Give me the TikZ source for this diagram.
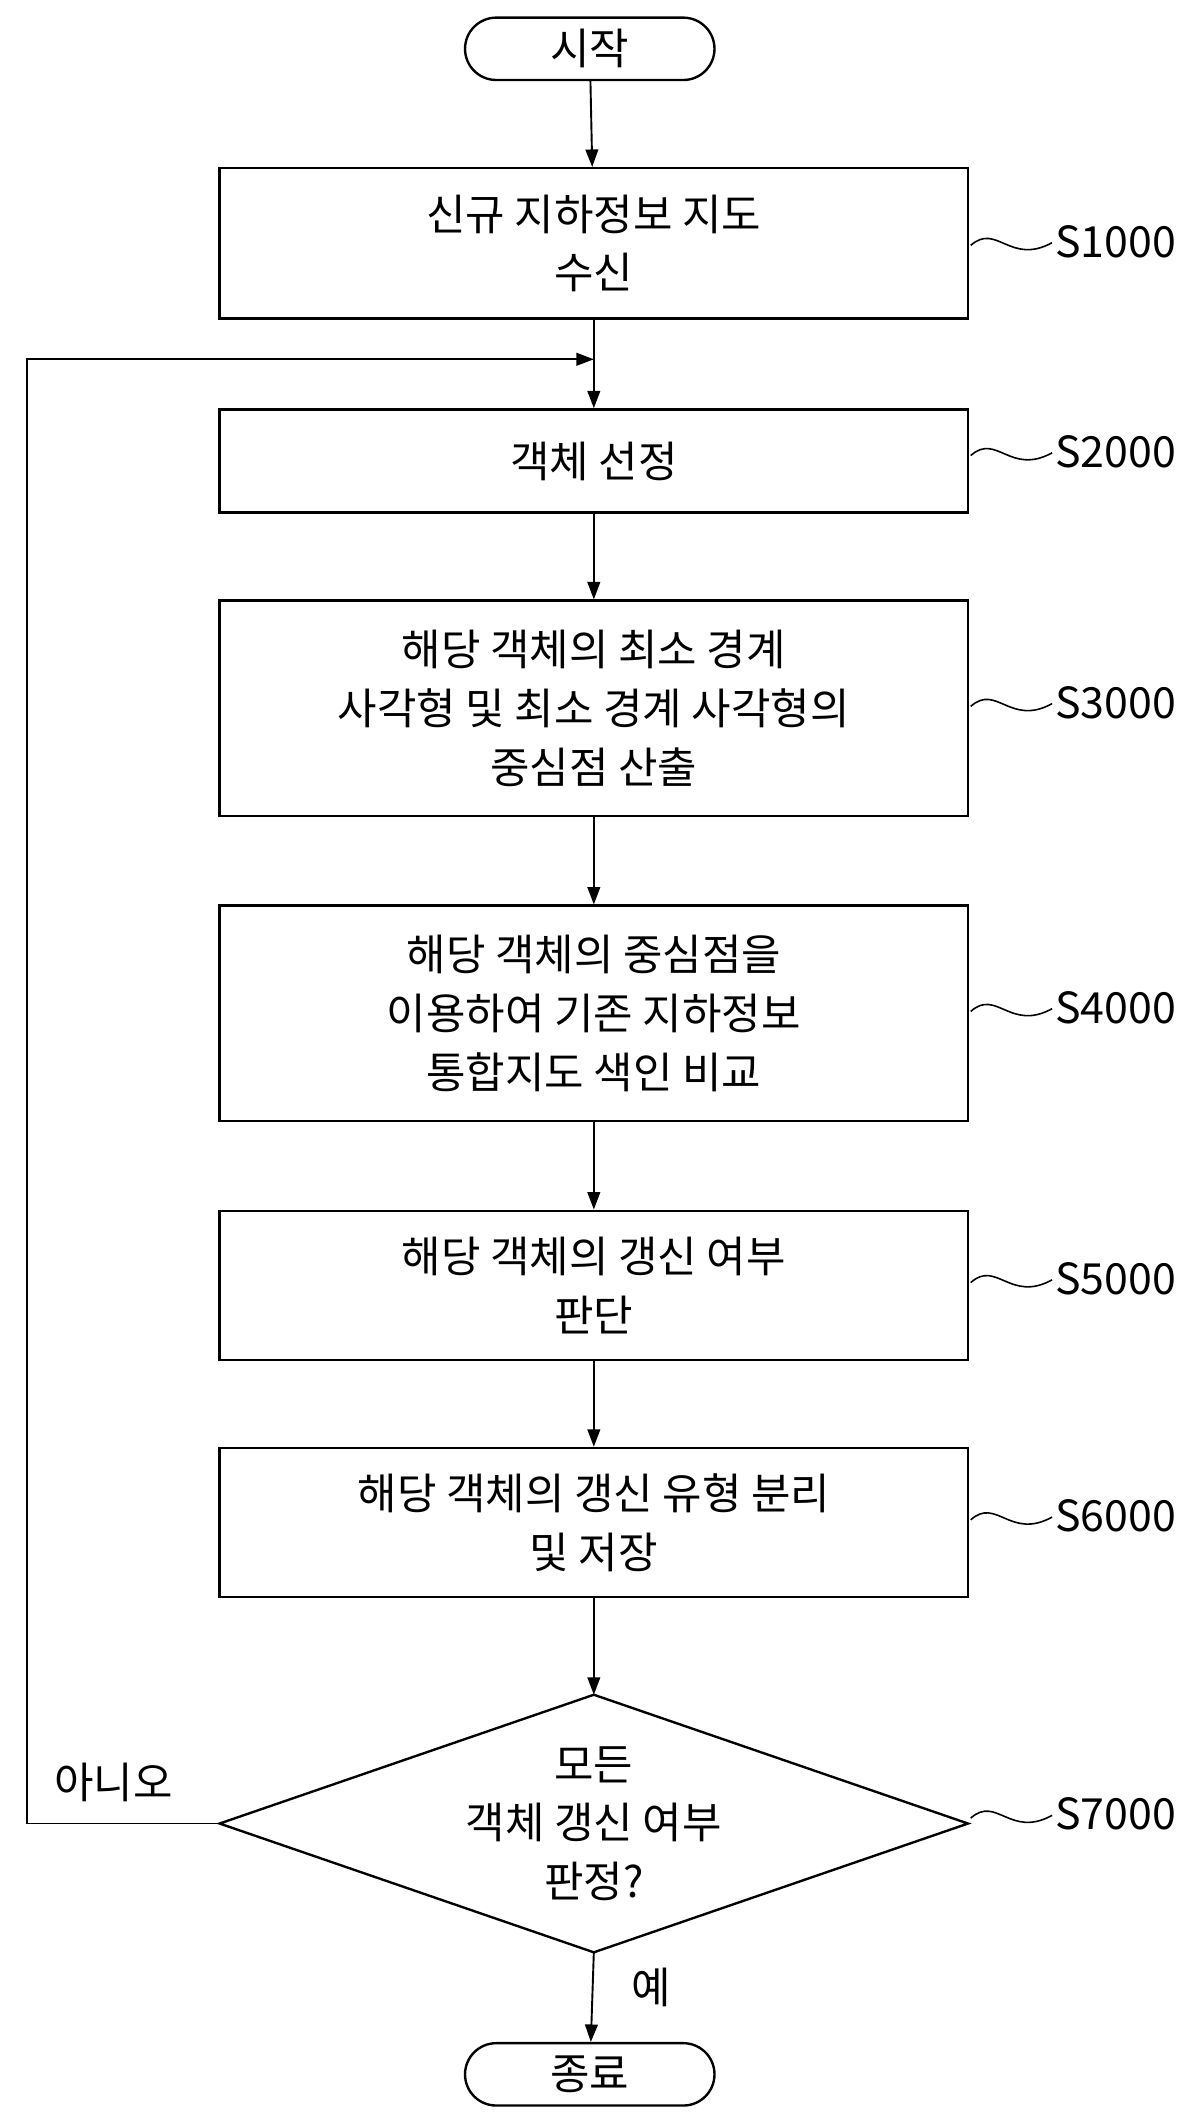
\documentclass[tikz,border=0pt]{standalone}
\usepackage{fontspec}
\setmainfont{Noto Sans CJK KR}[BoldFont={Noto Sans CJK KR Medium}]
\usetikzlibrary{shapes.geometric,shapes.misc,arrows.meta}
\begin{document}
\begin{tikzpicture}[x=0.03cm,y=-0.03cm,
  every node/.style={font=\fontsize{27}{37}\selectfont},
  stepbox/.style={draw,line width=1.5pt,minimum width=552*0.03cm,align=center,inner sep=0},
  term/.style={draw,line width=1.5pt,rounded rectangle,minimum width=184*0.03cm,minimum height=46*0.03cm,inner sep=0},
  arr/.style={line width=1.2pt,-{Triangle[length=11pt,width=8pt]}},
  lab/.style={font=\fontsize{27}{32}\selectfont,anchor=west}]
\useasboundingbox (0,0) rectangle (886,1560);
\node[term] (st) at (435,36) {시작};
\node[stepbox,minimum height=111*0.03cm] (b1) at (438,179.5) {신규 지하정보 지도\\수신};
\node[stepbox,minimum height=76*0.03cm] (b2) at (438,340) {객체 선정};
\node[stepbox,minimum height=159*0.03cm] (b3) at (438,522.5) {해당 객체의 최소 경계\\사각형 및 최소 경계 사각형의\\중심점 산출};
\node[stepbox,minimum height=159*0.03cm] (b4) at (438,747.5) {해당 객체의 중심점을\\이용하여 기존 지하정보\\통합지도 색인 비교};
\node[stepbox,minimum height=110*0.03cm] (b5) at (438,948) {해당 객체의 갱신 여부\\판단};
\node[stepbox,minimum height=110*0.03cm] (b6) at (438,1123) {해당 객체의 갱신 유형 분리\\및 저장};
\coordinate (dt) at (438,1250); \coordinate (db) at (438,1440);
\coordinate (dl) at (162,1345); \coordinate (dr) at (714,1345);
\draw[line width=1.5pt] (dt) -- (dr) -- (db) -- (dl) -- cycle;
\node[align=center] (dtx) at (438,1345) {모든\\객체 갱신 여부\\판정?};
\node[term] (en) at (435,1530) {종료};
\coordinate (m) at (438,265);
\draw[arr] (st) -- (b1);
\draw[line width=1.2pt] (b1) -- (m);
\draw[arr] (m) -- (b2);
\draw[arr] (b2) -- (b3);
\draw[arr] (b3) -- (b4);
\draw[arr] (b4) -- (b5);
\draw[arr] (b5) -- (b6);
\draw[arr] (b6) -- (dt);
\draw[arr] (db) -- (en);
\coordinate (c1) at (20,1345); \coordinate (c2) at (20,265);
\draw[arr] (dl) -- (c1) -- (c2) -- (m);
\node[lab] (no) at (36,1315) {아니오};
\node[lab] (ye) at (462,1466) {예};
\foreach \n/\y/\t in {1/178/S1000,2/333/S2000,3/518/S3000,4/743/S4000,5/943/S5000,6/1118/S6000,7/1338/S7000}{
  \node[lab,inner sep=0] (s\n) at (778,\y) {\t};
  \draw[line width=1pt] (716,\y+3) .. controls (735,\y-14) and (745,\y+18) .. (776,\y+1);
}
\end{tikzpicture}
\end{document}
